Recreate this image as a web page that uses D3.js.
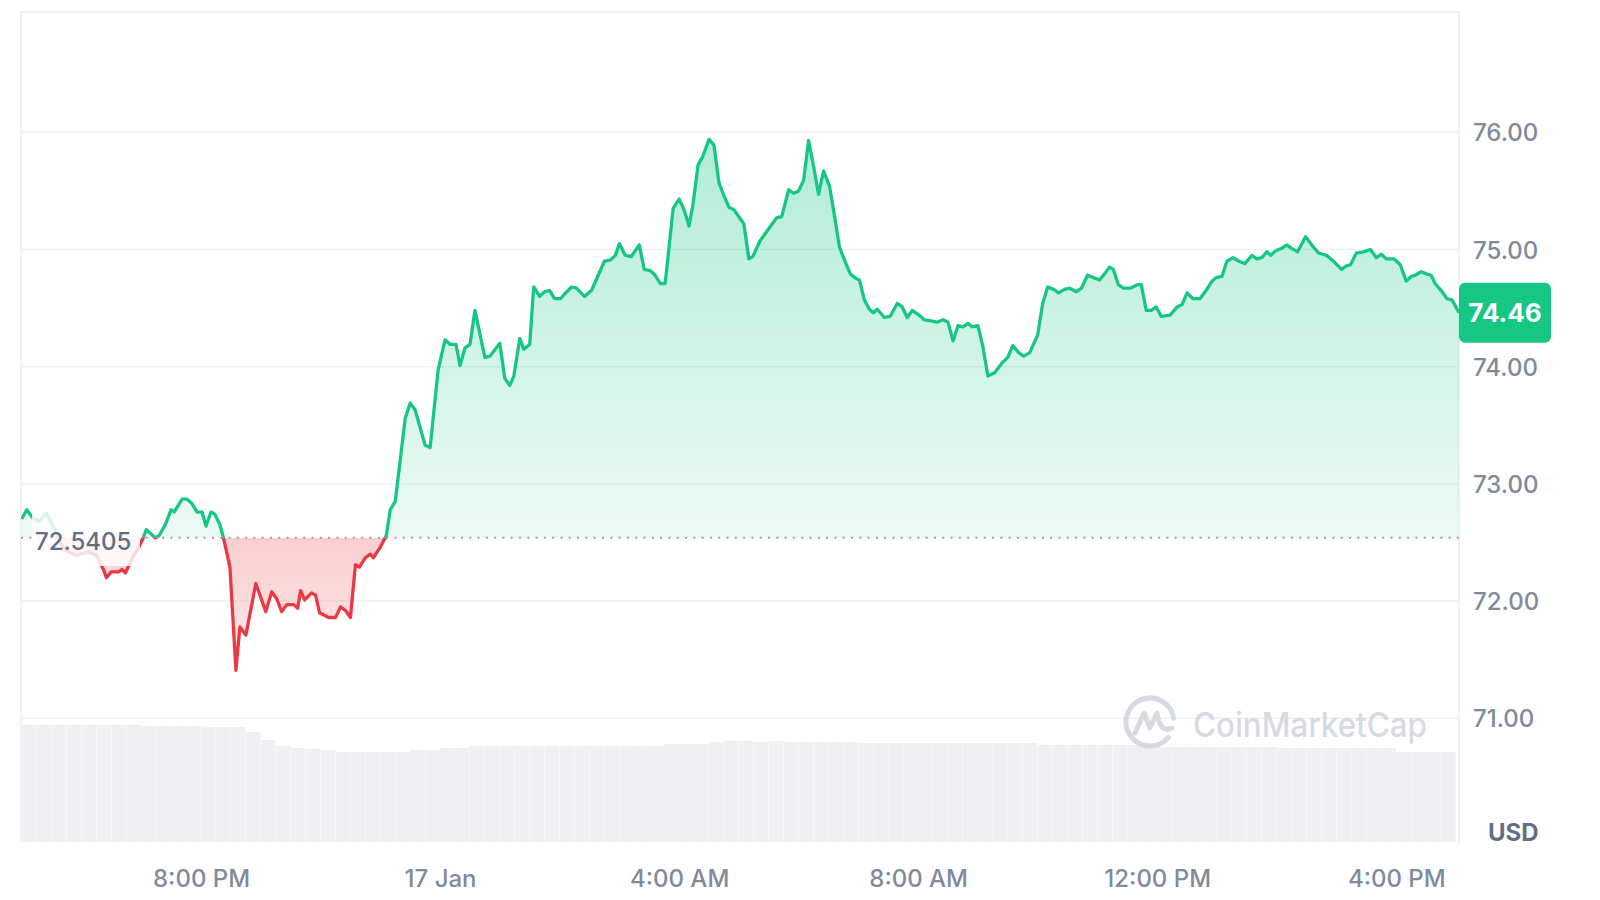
<!DOCTYPE html>
<html><head><meta charset="utf-8">
<script src="https://cdn.jsdelivr.net/npm/d3@7"></script>
<style>html,body{margin:0;padding:0;background:#fff;}svg{display:block;font-family:Inter,"Noto Sans",sans-serif;}</style>
</head><body>
<svg id="chart" width="1600" height="900"></svg>
<script>
// ---- data ----
const startTime = new Date(2024, 0, 16, 17, 0);
const baseline = 72.5405;
const lastPrice = 74.46;
// [minutes after 16 Jan 17:00, price USD]
const prices = [
[0,72.70],[5,72.78],[11,72.71],[17,72.68],[25,72.75],[33,72.61],[42,72.44],[55,72.39],[66,72.42],[75,72.39],
[82,72.27],[85,72.20],[90,72.25],[97,72.25],[101,72.27],[104,72.24],[112,72.38],[117,72.45],[122,72.54],[125,72.61],
[134,72.54],[138,72.56],[144,72.65],[150,72.78],[153,72.76],[161,72.87],[166,72.87],[171,72.83],[176,72.76],[181,72.76],
[185,72.64],[190,72.76],[194,72.74],[199,72.65],[202,72.56],[209,72.29],[215,71.41],[219,71.78],[225,71.71],[235,72.15],
[245,71.91],[251,72.08],[256,72.02],[261,71.91],[266,71.97],[273,71.97],[277,71.94],[280,72.09],[284,72.01],[291,72.07],
[295,72.05],[299,71.90],[308,71.86],[315,71.86],[320,71.95],[325,71.92],[330,71.86],[335,72.31],[339,72.29],[345,72.37],
[350,72.40],[353,72.37],[360,72.46],[366,72.56],[370,72.78],[375,72.85],[385,73.56],[390,73.69],[395,73.63],[405,73.33],
[410,73.31],[418,73.97],[425,74.23],[430,74.19],[436,74.19],[440,74.01],[445,74.16],[450,74.19],[455,74.48],[465,74.08],
[470,74.09],[480,74.20],[485,73.90],[490,73.84],[494,73.92],[500,74.24],[504,74.15],[510,74.19],[514,74.68],[520,74.60],
[525,74.64],[530,74.65],[535,74.58],[541,74.58],[545,74.62],[552,74.68],[557,74.67],[565,74.60],[572,74.65],[585,74.90],
[591,74.91],[596,74.95],[600,75.05],[606,74.95],[612,74.94],[620,75.04],[625,74.83],[631,74.82],[636,74.78],[641,74.71],
[646,74.71],[654,75.35],[660,75.43],[665,75.34],[670,75.20],[674,75.39],[679,75.72],[684,75.80],[690,75.94],[695,75.89],
[700,75.57],[704,75.48],[710,75.36],[715,75.34],[720,75.28],[725,75.22],[730,74.92],[734,74.94],[741,75.07],[751,75.19],
[758,75.27],[763,75.28],[770,75.51],[775,75.48],[780,75.50],[785,75.59],[790,75.93],[795,75.71],[800,75.47],[805,75.67],
[811,75.54],[815,75.34],[821,75.02],[827,74.89],[832,74.79],[838,74.75],[841,74.74],[846,74.57],[851,74.49],[855,74.46],
[859,74.49],[866,74.42],[872,74.43],[879,74.54],[884,74.51],[889,74.42],[894,74.48],[901,74.44],[906,74.40],[913,74.39],
[919,74.38],[925,74.40],[930,74.38],[935,74.22],[940,74.35],[945,74.34],[950,74.37],[954,74.34],[960,74.35],[965,74.17],
[970,73.92],[977,73.95],[984,74.03],[990,74.08],[995,74.18],[1001,74.12],[1006,74.09],[1012,74.12],[1020,74.27],[1025,74.54],
[1030,74.68],[1036,74.66],[1041,74.63],[1047,74.66],[1052,74.67],[1059,74.64],[1064,74.67],[1070,74.78],[1076,74.76],[1082,74.74],
[1087,74.79],[1092,74.85],[1096,74.83],[1101,74.70],[1106,74.67],[1113,74.67],[1120,74.70],[1124,74.70],[1129,74.48],[1134,74.48],
[1139,74.51],[1144,74.43],[1153,74.44],[1160,74.51],[1165,74.53],[1170,74.63],[1176,74.58],[1183,74.58],[1189,74.65],[1195,74.73],
[1199,74.76],[1205,74.77],[1210,74.90],[1216,74.93],[1222,74.90],[1228,74.88],[1235,74.95],[1240,74.92],[1245,74.93],[1250,74.98],
[1254,74.95],[1259,74.99],[1265,75.01],[1270,75.04],[1275,75.01],[1281,74.98],[1289,75.11],[1295,75.04],[1302,74.97],[1310,74.95],
[1317,74.90],[1325,74.83],[1330,74.86],[1334,74.87],[1340,74.97],[1347,74.98],[1354,75.00],[1360,74.93],[1365,74.96],[1370,74.92],
[1378,74.92],[1384,74.87],[1390,74.73],[1395,74.77],[1399,74.78],[1405,74.81],[1411,74.79],[1415,74.78],[1419,74.71],[1426,74.64],
[1431,74.58],[1436,74.57],[1443,74.46]
];
// volume per 15-minute slot (relative units)
const volumeSlotMinutes = 15;
const volumes = [
117,117,117,117,117,117,117,117,116,116,116,116,115,115,115,110,102,96,94,93,
92,90,90,90,90,90,92,92,94,94,96,96,96,96,96,96,96,96,96,96,
96,96,96,98,98,98,100,101,101,100,101,100,100,100,100,100,99,99,99,99,
99,99,99,99,99,99,99,99,97,97,97,97,97,97,97,95,95,95,95,95,
95,95,95,95,94,94,94,94,94,94,94,94,90,90,90,90
];
const yTickValues = [71, 72, 73, 74, 75, 76];
const xTickTimes = [new Date(2024,0,16,20,0), new Date(2024,0,17,0,0), new Date(2024,0,17,4,0), new Date(2024,0,17,8,0), new Date(2024,0,17,12,0), new Date(2024,0,17,16,0)];
const xTickLabels = ["8:00 PM", "17 Jan", "4:00 AM", "8:00 AM", "12:00 PM", "4:00 PM"];
const currencyLabel = "USD";
const watermarkText = "CoinMarketCap";

// ---- layout ----
const L = 21, R = 1459, T = 12, B = 842;
const GREEN = "#16c784", RED = "#ea3943";
const svg = d3.select("#chart");
const endTime = d3.timeMinute.offset(startTime, 1443);
const x = d3.scaleTime().domain([startTime, endTime]).range([21.75, 1459]);
const y = d3.scaleLinear().domain([71, 76]).range([718.3, 132.3]);
const yv = d3.scaleLinear().domain([0, 130]).range([B, 712]);
const data = prices.map(([m, p]) => ({t: d3.timeMinute.offset(startTime, m), p}));
const yBase = y(baseline);

const defs = svg.append("defs");
const gg = defs.append("linearGradient").attr("id","gGreen").attr("gradientUnits","userSpaceOnUse")
  .attr("x1",0).attr("x2",0).attr("y1",y(76)).attr("y2",yBase);
gg.append("stop").attr("offset",0).attr("stop-color",GREEN).attr("stop-opacity",0.34);
gg.append("stop").attr("offset",1).attr("stop-color",GREEN).attr("stop-opacity",0.08);
const gr = defs.append("linearGradient").attr("id","gRed").attr("gradientUnits","userSpaceOnUse")
  .attr("x1",0).attr("x2",0).attr("y1",yBase).attr("y2",y(71.4));
gr.append("stop").attr("offset",0).attr("stop-color",RED).attr("stop-opacity",0.25);
gr.append("stop").attr("offset",1).attr("stop-color",RED).attr("stop-opacity",0.1);
defs.append("clipPath").attr("id","cAbove").append("rect").attr("x",L).attr("y",0).attr("width",R-L).attr("height",yBase);
defs.append("clipPath").attr("id","cBelow").append("rect").attr("x",L).attr("y",yBase).attr("width",R-L).attr("height",B-yBase);

// frame & grid
svg.append("g").selectAll("line").data(yTickValues).join("line")
  .attr("x1",L).attr("x2",R).attr("y1",d=>y(d)).attr("y2",d=>y(d))
  .attr("stroke","#eff1f4").attr("stroke-width",1.5);
svg.append("path").attr("d",`M${L},${B}V${T}H${R}V${B}`).attr("fill","none").attr("stroke","#eceef2").attr("stroke-width",1.5);

// volume bars
const slotW = x(d3.timeMinute.offset(startTime, volumeSlotMinutes)) - x(startTime);
svg.append("g").selectAll("rect").data(volumes).join("rect")
  .attr("x",(d,i)=>x(d3.timeMinute.offset(startTime, i*volumeSlotMinutes)))
  .attr("width",slotW-0.3)
  .attr("y",d=>yv(d)).attr("height",d=>B-yv(d))
  .attr("fill","#eef0f4");

// watermark
const wm = svg.append("g").attr("fill","none").attr("stroke","#d5dae3").attr("stroke-width",5).attr("stroke-linecap","round").attr("stroke-linejoin","round");
const cx = 1150, cy = 722, r = 24;
wm.append("path").attr("d", d3.arc()({innerRadius:r, outerRadius:r, startAngle:Math.PI*0.72, endAngle:Math.PI*2.45})).attr("transform",`translate(${cx},${cy})`);
wm.append("path").attr("d",`M${cx-15},${cy+11} L${cx-6},${cy-9} L${cx},${cy+6} L${cx+7},${cy-9} Q${cx+10},${cy+12} ${cx+22},${cy+6}`);
svg.append("text").attr("x",1193).attr("y",737).attr("font-size",34).attr("font-weight",500)
  .attr("fill","#d5dae3").attr("textLength",234).attr("lengthAdjust","spacingAndGlyphs").text(watermarkText);

// fills
const area = d3.area().x(d=>x(d.t)).y0(yBase).y1(d=>y(d.p));
svg.append("path").datum(data).attr("d",area).attr("fill","url(#gGreen)").attr("clip-path","url(#cAbove)");
svg.append("path").datum(data).attr("d",area).attr("fill","url(#gRed)").attr("clip-path","url(#cBelow)");

// baseline dotted
svg.append("line").attr("x1",L).attr("x2",R).attr("y1",yBase).attr("y2",yBase)
  .attr("stroke","#9aa1ad").attr("stroke-width",2).attr("stroke-dasharray","2 6.3");

// lines
const line = d3.line().x(d=>x(d.t)).y(d=>y(d.p));
svg.append("path").datum(data).attr("d",line).attr("fill","none").attr("stroke",GREEN).attr("stroke-width",3.3).attr("stroke-linejoin","round").attr("clip-path","url(#cAbove)");
svg.append("path").datum(data).attr("d",line).attr("fill","none").attr("stroke",RED).attr("stroke-width",3.3).attr("stroke-linejoin","round").attr("clip-path","url(#cBelow)");

// baseline label
svg.append("rect").attr("x",32).attr("y",508).attr("width",108).attr("height",58).attr("fill","#fff").attr("opacity",0.82);
svg.append("text").attr("x",35).attr("y",yBase+12.5).attr("font-size",24).attr("font-weight",500).attr("fill","#616e85").text(baseline.toFixed(4));

// y axis
const yAxis = d3.axisRight(y).tickValues(yTickValues).tickFormat(d=>d.toFixed(2)).tickSize(0).tickPadding(0);
const ya = svg.append("g").attr("transform",`translate(1473,0)`).call(yAxis);
ya.select(".domain").remove();
ya.selectAll("text").attr("font-family","Inter").attr("font-size",24).attr("font-weight",500).attr("fill","#808a9d").attr("dy","0.36em");

// x axis
const xAxis = d3.axisBottom(x).tickValues(xTickTimes).tickFormat((d,i)=>xTickLabels[i]).tickSize(0).tickPadding(9);
const xa = svg.append("g").attr("transform",`translate(0,861)`).call(xAxis);
xa.select(".domain").remove();
xa.selectAll("text").attr("font-family","Inter").attr("font-size",24).attr("font-weight",500).attr("fill","#808a9d");

svg.append("text").attr("x",1488).attr("y",841).attr("font-size",24).attr("font-weight",700).attr("fill","#616e85").text(currencyLabel);

// last price badge
const yl = y(lastPrice);
svg.append("rect").attr("x",R).attr("y",yl-30).attr("width",92).attr("height",60).attr("rx",6).attr("fill",GREEN);
svg.append("text").attr("x",R+46).attr("y",yl+9.5).attr("text-anchor","middle").attr("font-size",26).attr("font-weight",700).attr("fill","#fff").text(lastPrice.toFixed(2));
</script>
</body></html>
